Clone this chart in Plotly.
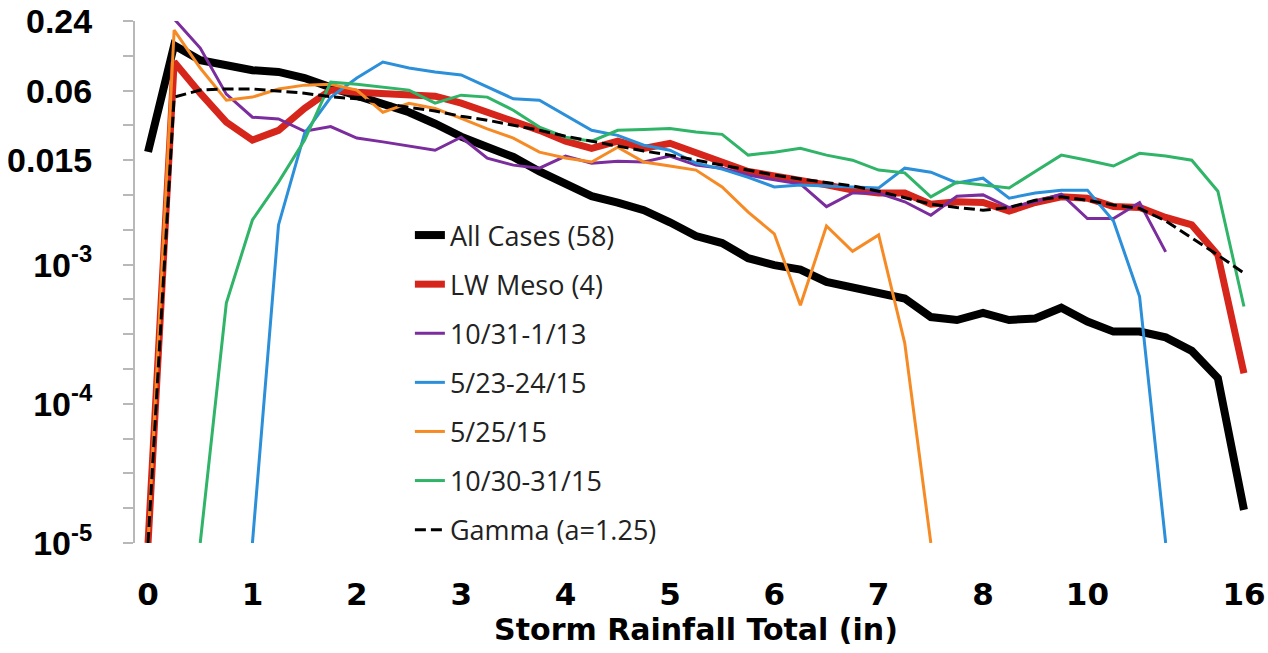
import numpy as np
import plotly.graph_objects as go

# Storm-total bins (inches): 0.25" steps to 8", 0.5" steps to 10", 1" steps to 16"
rain_bins = [0, 0.25, 0.5, 0.75, 1, 1.25, 1.5, 1.75, 2, 2.25, 2.5, 2.75, 3,
             3.25, 3.5, 3.75, 4, 4.25, 4.5, 4.75, 5, 5.25, 5.5, 5.75, 6,
             6.25, 6.5, 6.75, 7, 7.25, 7.5, 7.75, 8, 8.5, 9, 9.5, 10,
             11, 12, 13, 14, 15, 16]
x_labels = [0, 1, 2, 3, 4, 5, 6, 7, 8, 10, 16]

# Probability of each bin
all_cases = [0.0177, 0.148, 0.110, 0.098, 0.090, 0.087, 0.077, 0.064, 0.055,
             0.047, 0.039, 0.031, 0.024, 0.0195, 0.016, 0.0112, 0.0080,
             0.0059, 0.0050, 0.0041, 0.0030, 0.0021, 0.00175, 0.00118,
             0.00099, 0.00092, 0.00075, 0.00069, 0.00064, 0.00057, 0.00042,
             0.00040, 0.00045, 0.00040, 0.00041, 0.00049, 0.00039, 0.00033,
             0.00033, 0.00030, 0.00024, 0.000153, 0.0000173]
lw_meso = [1e-5, 0.106, 0.057, 0.032, 0.0224, 0.0272, 0.0422, 0.0606, 0.058,
           0.056, 0.0548, 0.0537, 0.0467, 0.0391, 0.0333, 0.0272, 0.0219,
           0.0190, 0.0219, 0.0190, 0.0210, 0.0176, 0.0143, 0.0112, 0.0100,
           0.0090, 0.0079, 0.0069, 0.0064, 0.0064, 0.0048, 0.0051, 0.0050,
           0.0040, 0.0050, 0.0058, 0.0056, 0.0045, 0.0044, 0.0034, 0.0028,
           0.00128, 0.000166]
case_oct13 = [None, 0.25, 0.140, 0.0559, 0.0353, 0.0341, 0.0267, 0.0293,
              0.0233, 0.0216, 0.0199, 0.0183, 0.0237, 0.0156, 0.0132, 0.0122,
              0.0163, 0.0139, 0.0146, 0.0143, 0.0163, 0.0132, 0.0122, 0.0102,
              0.0090, 0.0081, 0.0045, 0.0064, 0.0064, 0.0051, 0.0036, 0.0059,
              0.0061, 0.0044, 0.0051, 0.0062, 0.0033, 0.0033, 0.0050, 0.00139,
              None, None, None]
case_may2324 = [None, None, None, None, 1e-5, 0.0028, 0.0256, 0.0525, 0.077,
                0.106, 0.094, 0.087, 0.082, 0.065, 0.051, 0.0496, 0.0367,
                0.0272, 0.0246, 0.0202, 0.0183, 0.0139, 0.0119, 0.0096,
                0.0075, 0.0079, 0.0077, 0.0075, 0.0073, 0.0122, 0.0110,
                0.0083, 0.0094, 0.0056, 0.0064, 0.0069, 0.0069, 0.0031,
                0.00059, 1e-5, None, None, None]
case_may25 = [1e-5, 0.200, 0.094, 0.0496, 0.0527, 0.062, 0.0669, 0.068,
              0.0606, 0.039, 0.0467, 0.042, 0.0345, 0.028, 0.0233, 0.0176,
              0.0157, 0.0143, 0.0194, 0.0143, 0.0129, 0.0116, 0.0075, 0.0039,
              0.00222, 0.00051, 0.00272, 0.00141, 0.00216, 0.000273, 1e-5,
              None, None, None, None, None, None, None, None, None, None,
              None, None]
case_oct3031 = [None, None, 1e-5, 0.00053, 0.00318, 0.0085, 0.0224, 0.071,
                0.068, 0.064, 0.0606, 0.0467, 0.0548, 0.0527, 0.0406, 0.029,
                0.0237, 0.0219, 0.0272, 0.0277, 0.0282, 0.0263, 0.0251,
                0.0166, 0.0176, 0.0190, 0.0166, 0.0150, 0.0116, 0.0108,
                0.0058, 0.0085, 0.0079, 0.0073, 0.0112, 0.0166, 0.0150,
                0.0129, 0.0172, 0.0163, 0.0150, 0.0067, 0.00050]
gamma_fit = [1e-5, 0.0527, 0.0606, 0.062, 0.062, 0.059, 0.057, 0.053, 0.051,
             0.047, 0.043, 0.040, 0.036, 0.0333, 0.0301, 0.0272, 0.0242,
             0.0219, 0.0198, 0.0180, 0.0166, 0.0150, 0.0132, 0.0116, 0.0102,
             0.0092, 0.0084, 0.0077, 0.0067, 0.0057, 0.0048, 0.0044, 0.0041,
             0.0044, 0.0053, 0.0058, 0.0053, 0.0047, 0.0043, 0.0031, 0.0020,
             0.00128, 0.00087]

# Probability axis: labelled values and the tick slot each one sits on
y_label_values = [0.24, 0.06, 0.015, 1e-3, 1e-4, 1e-5]
y_label_text = ["0.24", "0.06", "0.015", "10<sup>-3</sup>", "10<sup>-4</sup>",
                "10<sup>-5</sup>"]
y_label_slot = [0, 2, 4, 7, 11, 15]
N_SLOTS = 16


def prob_scale(values):
    """Map probabilities onto the chart's tick-slot scale (log-piecewise)."""
    v = np.array([np.nan if a is None else a for a in values], dtype=float)
    lv = np.log10(v)
    xs = np.log10(y_label_values)[::-1]
    ys = np.array(y_label_slot, dtype=float)[::-1]
    out = np.interp(lv, xs, ys)
    hi = (ys[-1] - ys[-2]) / (xs[-1] - xs[-2])
    lo = (ys[1] - ys[0]) / (xs[1] - xs[0])
    out = np.where(lv > xs[-1], ys[-1] + (lv - xs[-1]) * hi, out)
    out = np.where(lv < xs[0], ys[0] + (lv - xs[0]) * lo, out)
    return [None if np.isnan(o) else -o for o in out]


cats = [f"{b:g}" for b in rain_bins]

series = [
    ("All Cases (58)", all_cases, "#000000", 8, "solid"),
    ("LW Meso (4)", lw_meso, "#d6261b", 7, "solid"),
    ("10/31-1/13", case_oct13, "#7b2d9e", 3, "solid"),
    ("5/23-24/15", case_may2324, "#2b8fd9", 3, "solid"),
    ("5/25/15", case_may25, "#f68b25", 3, "solid"),
    ("10/30-31/15", case_oct3031, "#2fb468", 3, "solid"),
    ("Gamma (a=1.25)", gamma_fit, "#000000", 3, "11px,5px"),
]

fig = go.Figure()
for i, (name, vals, color, width, dash) in enumerate(series):
    fig.add_trace(go.Scatter(
        x=cats, y=prob_scale(vals), mode="lines", name=name,
        legendgroup=f"g{i}",
        line=dict(color=color, width=width, dash=dash),
        hoverinfo="skip",
    ))

AXIS_GREY = "#b8b8b8"

fig.update_layout(
    width=1268, height=653,
    margin=dict(l=135, r=11, t=21, b=110),
    paper_bgcolor="white", plot_bgcolor="white",
    showlegend=True,
    legend=dict(
        x=0.245, xanchor="left", y=0.636, yanchor="top",
        bgcolor="rgba(0,0,0,0)", tracegroupgap=11,
        font=dict(family="Open Sans", size=27, color="#222222"),
    ),
    xaxis=dict(
        type="category", categoryorder="array", categoryarray=cats,
        range=[-0.5, len(cats) - 0.5],
        tickvals=[f"{v:g}" for v in x_labels],
        ticktext=[f"{v:g}" for v in x_labels],
        showline=False, showgrid=False, zeroline=False, ticks="",
        ticklabelstandoff=30,
        tickfont=dict(family="DejaVu Sans", size=31, color="black", weight="bold"),
        title=dict(text="Storm Rainfall Total (in)", standoff=4,
                   font=dict(family="DejaVu Sans", size=30, color="black",
                             weight="bold")),
        automargin=False,
    ),
    xaxis2=dict(
        overlaying="x", side="top", anchor="y",
        range=[-0.5, len(cats) - 0.5],
        tickmode="linear", tick0=0.5, dtick=1,
        ticks="inside", ticklen=7, tickwidth=1.5, tickcolor=AXIS_GREY,
        showline=True, linecolor=AXIS_GREY, linewidth=2,
        showticklabels=False, showgrid=False, zeroline=False,
    ),
    yaxis=dict(
        range=[-(N_SLOTS - 1), 0],
        tickvals=[-s for s in y_label_slot], ticktext=y_label_text,
        ticks="outside", ticklen=10, tickwidth=1.5, tickcolor=AXIS_GREY,
        minor=dict(tickmode="array", tickvals=[-s for s in range(N_SLOTS)],
                   ticks="outside", ticklen=10, tickwidth=1.5,
                   tickcolor=AXIS_GREY, showgrid=False),
        showline=True, linecolor=AXIS_GREY, linewidth=2,
        showgrid=False, zeroline=False,
        ticklabelstandoff=24,
        tickfont=dict(family="Liberation Sans", size=34, color="black",
                      weight="bold"),
        automargin=False,
    ),
)

fig.write_html("out.html")
